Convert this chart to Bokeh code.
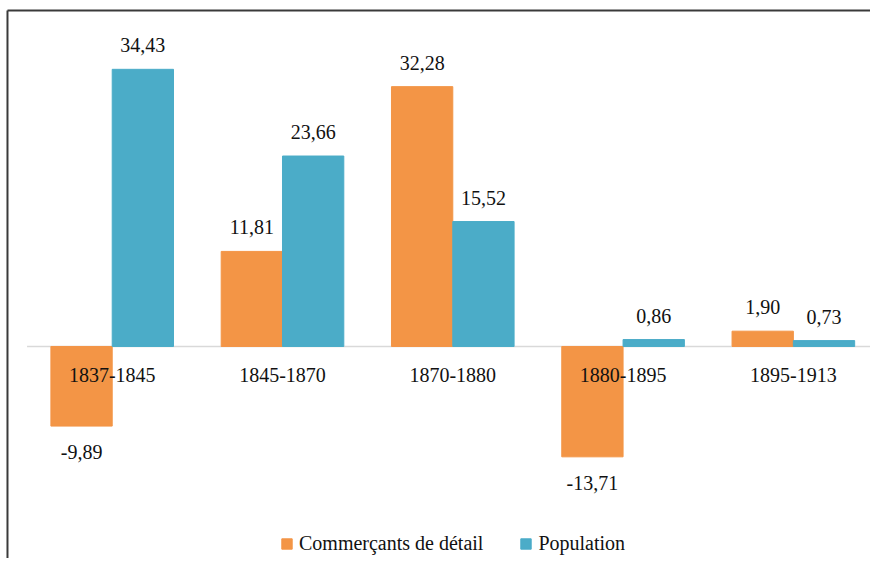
import numpy as np
from bokeh.plotting import figure
from bokeh.models import ColumnDataSource, Range1d, Span, Legend, LegendItem
from bokeh.core.properties import value
from bokeh.embed import file_html
from bokeh.resources import INLINE

categories = ["1837-1845", "1845-1870", "1870-1880", "1880-1895", "1895-1913"]
commercants = [-9.89, 11.81, 32.28, -13.71, 1.90]
population = [34.43, 23.66, 15.52, 0.86, 0.73]
series_names = ["Commerçants de détail", "Population"]

ORANGE = "#F39546"
BLUE = "#4BACC8"
FONT = "Liberation Serif"
TXT = "#111111"

def fmt(v):
    return f"{v:.2f}".replace(".", ",")

n = len(categories)
xpos = np.arange(n)
W, H = 870, 558
X0, X1 = -0.656, 4.453
Y0, Y1 = -26.34, 42.98

p = figure(width=W, height=H, output_backend="svg", toolbar_location=None,
           x_range=Range1d(X0, X1), y_range=Range1d(Y0, Y1),
           min_border=0, outline_line_color=None)
p.xaxis.visible = False
p.yaxis.visible = False
p.grid.visible = False
p.background_fill_color = "white"
p.border_fill_color = "white"

bw = 0.36
src_o = ColumnDataSource(dict(x=xpos - bw / 2, top=commercants,
                              lab=[fmt(v) for v in commercants]))
src_b = ColumnDataSource(dict(x=xpos + bw / 2, top=population,
                              lab=[fmt(v) for v in population]))

# zero axis line
p.segment(x0=[-0.5], y0=[0], x1=[n - 0.5], y1=[0], line_color="#d9d9d9", line_width=1.5)

r_o = p.vbar(x="x", top="top", bottom=0, width=bw, source=src_o,
             fill_color=ORANGE, line_color=ORANGE)
r_b = p.vbar(x="x", top="top", bottom=0, width=bw, source=src_b,
             fill_color=BLUE, line_color=BLUE)

# value labels
for vals, src in ((commercants, src_o), (population, src_b)):
    pos = [i for i, v in enumerate(vals) if v >= 0]
    neg = [i for i, v in enumerate(vals) if v < 0]
    d = src.data
    if pos:
        s = ColumnDataSource(dict(x=[d["x"][i] for i in pos], y=[d["top"][i] for i in pos],
                                  t=[d["lab"][i] for i in pos]))
        p.text(x="x", y="y", text="t", source=s, text_align="center", text_baseline="middle",
               y_offset=-24, text_font=value(FONT), text_font_size="20px", text_color=TXT)
    if neg:
        s = ColumnDataSource(dict(x=[d["x"][i] for i in neg], y=[d["top"][i] for i in neg],
                                  t=[d["lab"][i] for i in neg]))
        p.text(x="x", y="y", text="t", source=s, text_align="center", text_baseline="middle",
               y_offset=26, text_font=value(FONT), text_font_size="20px", text_color=TXT)

# category labels just below zero line
cs = ColumnDataSource(dict(x=xpos, y=[0] * n, t=categories))
p.text(x="x", y="y", text="t", source=cs, text_align="center", text_baseline="middle",
       y_offset=29, text_font=value(FONT), text_font_size="20px", text_color=TXT)

# frame border (top and left only)
BT, BL = 41.74, -0.615
p.segment(x0=[BL], y0=[BT], x1=[X1], y1=[BT], line_color="#3a3a3a", line_width=2)
p.segment(x0=[BL], y0=[BT], x1=[BL], y1=[Y0], line_color="#3a3a3a", line_width=2)

legend = Legend(items=[LegendItem(label=series_names[0], renderers=[r_o]),
                       LegendItem(label=series_names[1], renderers=[r_b])],
                location=(280, 3), orientation="horizontal",
                glyph_width=13, glyph_height=13, label_standoff=6, spacing=36,
                padding=0, margin=0, border_line_color=None, background_fill_alpha=0,
                label_text_font=FONT, label_text_font_size="20px", label_text_color=TXT)
p.add_layout(legend)

open("out.html", "w").write(file_html(p, INLINE))
